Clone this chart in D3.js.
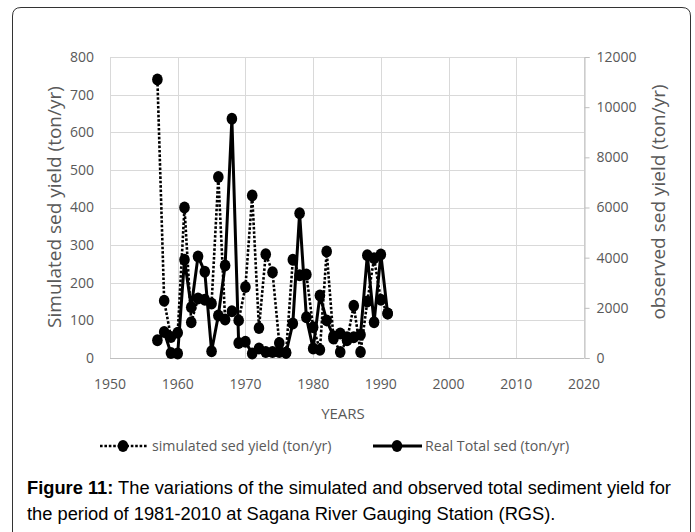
<!DOCTYPE html>
<html><head><meta charset="utf-8">
<script src="https://cdn.jsdelivr.net/npm/d3@7"></script>
<style>
html,body{margin:0;padding:0;background:#fff;}
svg{display:block;}
</style></head>
<body>
<svg id="chart" width="695" height="532"></svg>
<script>
const years = [1957,1958,1959,1960,1961,1962,1963,1964,1965,1966,1967,1968,1969,1970,1971,1972,1973,1974,1975,1976,1977,1978,1979,1980,1981,1982,1983,1984,1985,1986,1987,1988,1989,1990,1991];
const simulated = [740,152,56,67,400,95,158,155,145,481,102,124,100,189,432,80,276,228,40,14,261,220,222,82,22,283,52,16,47,139,16,150,265,155,118];
const observed = [705,1035,195,180,3915,2025,4050,3435,270,1695,3690,9540,600,645,180,375,240,240,240,210,1380,5775,1620,375,2490,1500,870,975,825,825,930,4095,1425,4125,1770];
const xTicks = [1950,1960,1970,1980,1990,2000,2010,2020];
const leftTicks = [0,100,200,300,400,500,600,700,800];
const rightTicks = [0,2000,4000,6000,8000,10000,12000];
const leftTitle = "Simulated sed yield (ton/yr)";
const rightTitle = "observed sed yield (ton/yr)";
const xTitle = "YEARS";
const legendLabels = ["simulated sed yield (ton/yr)", "Real Total sed (ton/yr)"];

const svg = d3.select("#chart");
const font = "'Open Sans', sans-serif";
const grey = "#595959";

// frame
svg.append("path")
  .attr("d", "M12.5,545 L12.5,16 Q12.5,7.5 21,7.5 L682,7.5 Q690.5,7.5 690.5,16 L690.5,545")
  .attr("fill","none").attr("stroke","#333").attr("stroke-width",1);

const x = d3.scaleLinear().domain([1950,2020]).range([110,584]);
const yL = d3.scaleLinear().domain([0,800]).range([358,57]);
const yR = d3.scaleLinear().domain([0,12000]).range([358,57]);

// gridlines
const g = svg.append("g");
g.selectAll(".hg").data(leftTicks.slice(1)).join("line")
  .attr("x1",x(1950)).attr("x2",x(2020))
  .attr("y1",d=>Math.round(yL(d))+0.5).attr("y2",d=>Math.round(yL(d))+0.5)
  .attr("stroke","#d9d9d9").attr("stroke-width",1);
g.selectAll(".vg").data(xTicks).join("line")
  .attr("x1",d=>Math.round(x(d))+0.5).attr("x2",d=>Math.round(x(d))+0.5)
  .attr("y1",yL(800)).attr("y2",yL(0))
  .attr("stroke","#d9d9d9").attr("stroke-width",1);

// bottom axis line
svg.append("line").attr("x1",x(1950)).attr("x2",x(2020))
  .attr("y1",Math.round(yL(0))+0.5).attr("y2",Math.round(yL(0))+0.5)
  .attr("stroke","#bfbfbf").attr("stroke-width",1);

// left tick labels
svg.append("g").selectAll("text").data(leftTicks).join("text")
  .attr("x",94).attr("y",d=>yL(d)).attr("dy","0.35em")
  .attr("text-anchor","end").attr("font-family",font).attr("font-size",14)
  .attr("fill",grey).text(d=>d);

// right axis
const rAxis = d3.axisRight(yR).tickValues(rightTicks).tickSize(5).tickFormat(d=>d);
const ra = svg.append("g").attr("transform",`translate(${Math.round(x(2020))+0.5},0)`).call(rAxis);
ra.select(".domain").attr("stroke","#bfbfbf");
ra.selectAll(".tick line").attr("stroke","#bfbfbf");
ra.selectAll(".tick text").attr("font-family",font).attr("font-size",14).attr("fill",grey).attr("x",12);

// x tick labels
svg.append("g").selectAll("text").data(xTicks).join("text")
  .attr("x",d=>x(d)).attr("y",384).attr("dy","0.35em")
  .attr("text-anchor","middle").attr("font-family",font).attr("font-size",14)
  .attr("fill",grey).text(d=>d);

// titles
svg.append("text").attr("transform","translate(54,207) rotate(-90)")
  .attr("text-anchor","middle").attr("dy","0.35em")
  .attr("font-family",font).attr("font-size",19).attr("fill",grey).text(leftTitle);
svg.append("text").attr("transform","translate(658,202) rotate(-90)")
  .attr("text-anchor","middle").attr("dy","0.35em")
  .attr("font-family",font).attr("font-size",19).attr("fill",grey).text(rightTitle);
svg.append("text").attr("x",343).attr("y",414).attr("dy","0.35em")
  .attr("text-anchor","middle").attr("font-family",font).attr("font-size",15)
  .attr("fill",grey).text(xTitle);

// series
const simData = years.map((yr,i)=>({yr, v:simulated[i]}));
const obsData = years.map((yr,i)=>({yr, v:observed[i]}));
const simLine = d3.line().x(d=>x(d.yr)).y(d=>yL(d.v));
const obsLine = d3.line().x(d=>x(d.yr)).y(d=>yR(d.v));

svg.append("path").datum(simData).attr("d",simLine)
  .attr("fill","none").attr("stroke","#000").attr("stroke-width",2.6)
  .attr("stroke-dasharray","2.6,1.8");
svg.append("path").datum(obsData).attr("d",obsLine)
  .attr("fill","none").attr("stroke","#000").attr("stroke-width",3)
  .attr("stroke-linejoin","round");

svg.append("g").selectAll("ellipse").data(simData).join("ellipse")
  .attr("cx",d=>x(d.yr)).attr("cy",d=>yL(d.v)).attr("rx",5.3).attr("ry",6).attr("fill","#000");
svg.append("g").selectAll("ellipse").data(obsData).join("ellipse")
  .attr("cx",d=>x(d.yr)).attr("cy",d=>yR(d.v)).attr("rx",5.3).attr("ry",6).attr("fill","#000");

// legend
const lg = svg.append("g");
lg.append("line").attr("x1",100).attr("x2",148).attr("y1",446).attr("y2",446)
  .attr("stroke","#000").attr("stroke-width",2.6).attr("stroke-dasharray","2.6,1.8");
lg.append("ellipse").attr("cx",123).attr("cy",446).attr("rx",5.3).attr("ry",6).attr("fill","#000");
lg.append("text").attr("x",152).attr("y",446).attr("dy","0.35em")
  .attr("font-family",font).attr("font-size",14.2).attr("fill",grey).text(legendLabels[0]);
lg.append("line").attr("x1",373).attr("x2",422).attr("y1",446).attr("y2",446)
  .attr("stroke","#000").attr("stroke-width",3);
lg.append("ellipse").attr("cx",397).attr("cy",446).attr("rx",5.3).attr("ry",6).attr("fill","#000");
lg.append("text").attr("x",425).attr("y",446).attr("dy","0.35em")
  .attr("font-family",font).attr("font-size",14.2).attr("fill",grey).text(legendLabels[1]);

// caption
const cap = svg.append("text").attr("font-family","'Liberation Sans', Arial, sans-serif")
  .attr("font-size",18.3).attr("fill","#000");
const l1 = cap.append("tspan").attr("x",27).attr("y",494);
l1.append("tspan").attr("font-weight","bold").text("Figure 11:");
l1.append("tspan").text(" The variations of the simulated and observed total sediment yield for");
cap.append("tspan").attr("x",27).attr("y",520).text("the period of 1981-2010 at Sagana River Gauging Station (RGS).");
</script>
</body></html>
